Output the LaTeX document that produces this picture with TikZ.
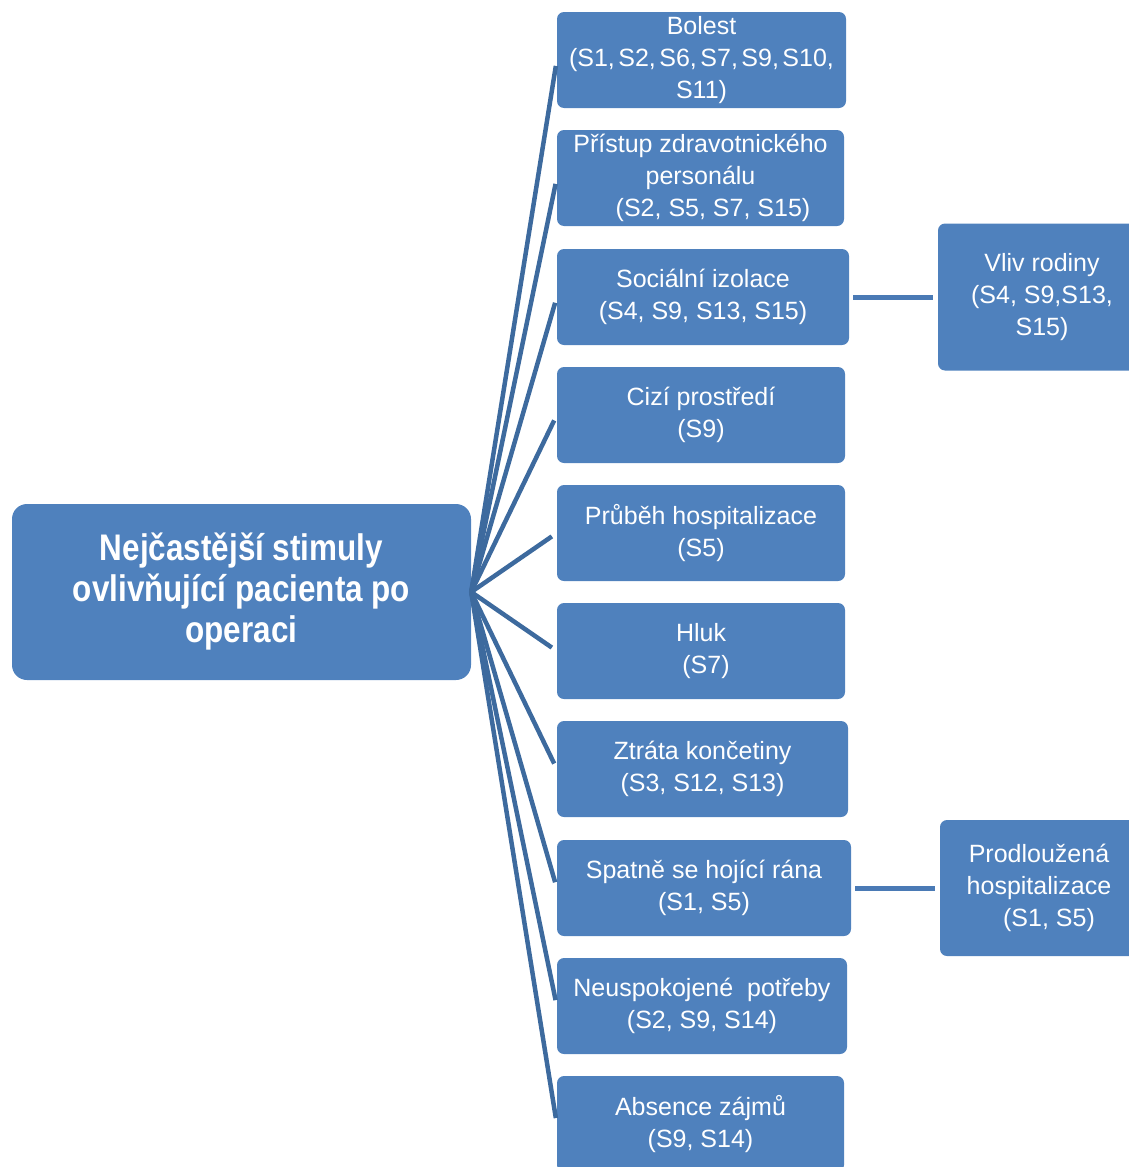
\documentclass[tikz,border=0pt]{standalone}
\usepackage{fontspec}
\setmainfont{Liberation Sans}
\newfontfamily\narrowfont{Liberation Sans}[FakeStretch=0.85]
\usetikzlibrary{calc}
\definecolor{boxblue}{HTML}{4F81BD}
\definecolor{fanblue}{HTML}{3D6A9E}
\definecolor{linkblue}{HTML}{4A7AB5}
\newcommand{\tsp}{\hspace{0.14em}}
\tikzset{
  box/.style={fill=boxblue, rounded corners=7pt, minimum height=96pt,
    inner sep=0pt, align=center, text=white,
    font=\fontsize{25}{32}\selectfont},
  rootbox/.style={fill=boxblue, rounded corners=15pt, minimum width=459pt,
    minimum height=176pt, inner sep=0pt, align=center, text=white,
    font=\narrowfont\bfseries\fontsize{37}{41}\selectfont},
  fan/.style={draw=fanblue, line width=4.5pt, shorten >=6pt},
  link/.style={draw=linkblue, line width=5pt, shorten <=4pt, shorten >=5pt}
}
\begin{document}
\begin{tikzpicture}[x=1pt, y=-1pt]
\useasboundingbox (0,0) rectangle (1129,1167);

% root
\node[rootbox] (root) at (241.5,592) {Nejčastější stimuly\\ovlivňující pacienta po\\operaci};

% stimuli column
\node[box, minimum width=289pt] (b1) at (701.5,60) {Bolest\\(S1,\tsp S2,\tsp S6,\tsp S7,\tsp S9,\tsp S10,\\S11)};
\node[box, minimum width=287pt] (b2) at (700.5,178) {Přístup zdravotnického\\personálu\\\hspace*{1em}(S2, S5, S7, S15)};
\node[box, minimum width=292pt] (b3) at (703,297) {Sociální izolace\\(S4, S9, S13, S15)};
\node[box, minimum width=288pt] (b4) at (701,415) {Cizí prostředí\\(S9)};
\node[box, minimum width=288pt] (b5) at (701,533) {Průběh hospitalizace\\(S5)};
\node[box, minimum width=288pt] (b6) at (701,651) {Hluk\\\hspace*{0.4em}(S7)};
\node[box, minimum width=291pt] (b7) at (702.5,769) {Ztráta končetiny\\(S3, S12, S13)};
\node[box, minimum width=294pt] (b8) at (704,888) {Spatně se hojící rána\\(S1, S5)};
\node[box, minimum width=290pt] (b9) at (702,1006) {Neuspokojené\ \ potřeby\\(S2, S9, S14)};
\node[box, minimum width=287pt] (b10) at (700.5,1124) {Absence zájmů\\(S9, S14)};

% consequences
\node[box, minimum width=208pt, minimum height=147pt] (vliv) at (1042,297) {Vliv rodiny\\(S4, S9,S13,\\S15)};
\node[box, minimum width=198pt, minimum height=136pt] (prodl) at (1039,888) {Prodloužená\\hospitalizace\\\hspace*{0.8em}(S1, S5)};

% fan of connectors
\foreach \n in {b1,b2,b3,b4,b5,b6,b7,b8,b9,b10}
  \draw[fan] (root.east) -- (\n.west);

% side links
\draw[link] (b3.east) -- (vliv.west);
\draw[link] (b8.east) -- (prodl.west);
\end{tikzpicture}
\end{document}
